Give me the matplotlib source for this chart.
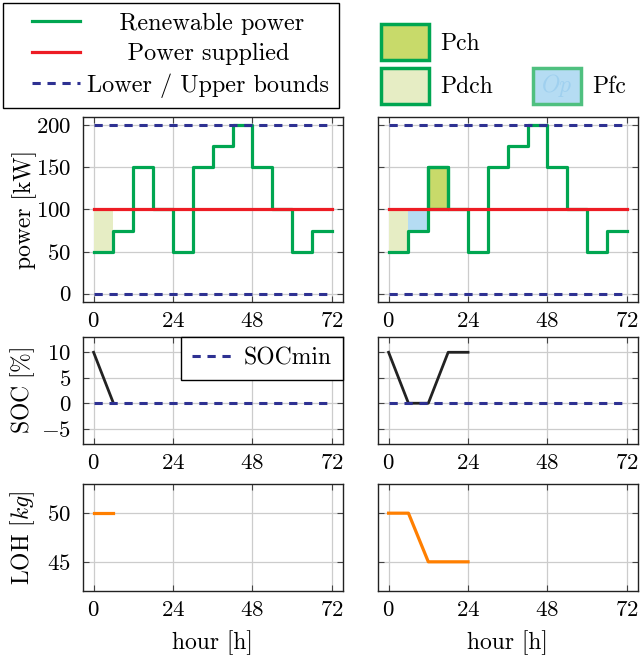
import matplotlib
matplotlib.use('Agg')
import numpy as np
import matplotlib.pyplot as plt
from matplotlib.lines import Line2D
from matplotlib.patches import Patch
from matplotlib.text import Text
from matplotlib.legend_handler import HandlerLine2D, HandlerPatch

plt.rcParams['font.family'] = 'cmr10'
plt.rcParams['mathtext.fontset'] = 'cm'
plt.rcParams['axes.formatter.use_mathtext'] = True
plt.rcParams['axes.unicode_minus'] = True

# ---- data ----
hours = [0, 6, 12, 18, 24, 30, 36, 42, 48, 54, 60, 66, 72]
renewable = [50, 75, 150, 100, 50, 150, 175, 200, 150, 100, 50, 75]
supplied = [100, 100]
supplied_h = [0, 72]
lower_bound = [0, 0]
upper_bound = [200, 200]

pdch_h = [0, 6]
pdch_lo = [50, 50]
pdch_hi = [100, 100]
pfc_h = [6, 12]
pfc_lo = [75, 75]
pfc_hi = [100, 100]
pch_h = [12, 18]
pch_lo = [100, 100]
pch_hi = [150, 150]

soc_left_h = [0, 6]
soc_left = [10, 0]
soc_right_h = [0, 6, 12, 18, 24]
soc_right = [10, 0, 0, 10, 10]
soc_min = [0, 0]

loh_left_h = [0, 6]
loh_left = [50, 50]
loh_right_h = [0, 6, 12, 24]
loh_right = [50, 50, 45, 45]

xticks = [0, 24, 48, 72]

GREEN = '#00a651'
RED = '#ed1c24'
BLUE = '#2e3192'
ORANGE = '#ff7f00'
C_PDCH = '#e6edc4'
C_PCH = '#c8da6a'
C_PFC = '#b5dcf3'
DASH = (0, (2.7, 2.2))
FS = 17
TFS = 16.5

W, H = 641, 659
fig = plt.figure(figsize=(W / 100, H / 100), dpi=100)


def box(x0, y0, x1, y1):
    return [x0 / W, 1 - y1 / H, (x1 - x0) / W, (y1 - y0) / H]


class InsetLine(HandlerLine2D):
    """legend line that leaves some room on its left, like pgfplots"""
    def __init__(self, inset, **kw):
        super().__init__(**kw)
        self.inset = inset

    def get_xdata(self, legend, xdescent, ydescent, width, height, fontsize):
        x = np.array([-xdescent + self.inset * fontsize, -xdescent + width])
        return x, x


class OpPatch(HandlerPatch):
    def create_artists(self, legend, orig_handle, xdescent, ydescent,
                       width, height, fontsize, trans):
        arts = super().create_artists(legend, orig_handle, xdescent, ydescent,
                                      width, height, fontsize, trans)
        t = Text(-xdescent + width / 2, -ydescent + height / 2, '$Op$',
                 color='#9fd0ef', fontsize=fontsize, ha='center', va='center',
                 transform=trans)
        return arts + [t]


cols = [(83, 342.5), (378, 637.5)]
rows = [(117, 302), (337, 444), (484, 591)]
axes = [[fig.add_axes(box(c[0], r[0], c[1], r[1])) for c in cols] for r in rows]

ren_y = renewable + [renewable[-1]]

for j in range(2):
    ax = axes[0][j]
    ax.plot(hours, ren_y, drawstyle='steps-post', color=GREEN, lw=2.3, zorder=3)
    ax.plot(supplied_h, supplied, color=RED, lw=2.3, zorder=4)
    ax.plot(supplied_h, lower_bound, color=BLUE, lw=2.2, ls=DASH, zorder=5)
    ax.plot(supplied_h, upper_bound, color=BLUE, lw=2.2, ls=DASH, zorder=5)
    ax.fill_between(pdch_h, pdch_lo, pdch_hi, color=C_PDCH, lw=0, zorder=2)
    ax.set_ylim(-10, 210)
    ax.set_yticks([0, 50, 100, 150, 200])

ax = axes[0][1]
ax.fill_between(pfc_h, pfc_lo, pfc_hi, color=C_PFC, lw=0, zorder=2)
ax.fill_between(pch_h, pch_lo, pch_hi, facecolor=C_PCH, edgecolor=GREEN, lw=2.3, zorder=2)

axes[1][0].plot(soc_left_h, soc_left, color='#222222', lw=2.0, zorder=3)
axes[1][1].plot(soc_right_h, soc_right, color='#222222', lw=2.0, zorder=3)
for j in range(2):
    ax = axes[1][j]
    ax.plot(supplied_h, soc_min, color=BLUE, lw=2.2, ls=DASH, zorder=4,
            label='SOCmin')
    ax.set_ylim(-8, 13)
    ax.set_yticks([-5, 0, 5, 10])

axes[2][0].plot(loh_left_h, loh_left, color=ORANGE, lw=2.3)
axes[2][1].plot(loh_right_h, loh_right, color=ORANGE, lw=2.3)
for j in range(2):
    axes[2][j].set_ylim(42, 53)
    axes[2][j].set_yticks([45, 50])
    axes[2][j].set_xlabel('hour [h]', fontsize=FS, labelpad=7)

for r in range(3):
    for j in range(2):
        ax = axes[r][j]
        ax.set_xlim(-3.2, 75.2)
        ax.set_xticks(xticks)
        ax.grid(True, color='#cccccc', lw=0.9)
        ax.set_axisbelow(True)
        ax.tick_params(direction='in', top=True, right=True, length=4,
                       width=0.8, color='#444444', labelsize=TFS, pad=7)
        ax.tick_params(axis='y', pad=8.5)
        for s in ax.spines.values():
            s.set_linewidth(1.0)
            s.set_color('#222222')
        if j == 1:
            ax.tick_params(labelleft=False)

axes[0][0].set_ylabel('power [kW]', fontsize=FS)
axes[1][0].set_ylabel(r'$\mathrm{SOC\ [\%]}$', fontsize=FS)
axes[2][0].set_ylabel('LOH [$kg$]', fontsize=FS)
for r in range(3):
    axes[r][0].yaxis.set_label_coords(-0.177, 0.5)

leg = axes[1][0].legend(loc='upper right', fontsize=FS, frameon=True,
                        fancybox=False, edgecolor='black', framealpha=1,
                        handlelength=1.7, handletextpad=0.5, borderaxespad=0.0,
                        borderpad=0.45)
leg.get_frame().set_linewidth(1.0)

# top-left legend
h1 = [Line2D([], [], color=GREEN, lw=2.3),
      Line2D([], [], color=RED, lw=2.3),
      Line2D([], [], color=BLUE, lw=2.2, ls=DASH)]
l1 = ['    Renewable power', '     Power supplied', 'Lower / Upper bounds']
lg1 = fig.legend(h1, l1, loc='upper left', bbox_to_anchor=(3 / W, 1 - 3 / H),
                 fontsize=17.5, fancybox=False, edgecolor='black', framealpha=1,
                 handlelength=2.75, handletextpad=0.3, labelspacing=0.34,
                 borderpad=0.4, borderaxespad=0.0,
                 handler_map={Line2D: InsetLine(0.8)})
lg1.get_frame().set_linewidth(1.0)

# top-right legend
pfc_handle = Patch(facecolor=C_PFC, edgecolor='#4fc07f', lw=2.5)
h2 = [Patch(facecolor=C_PCH, edgecolor=GREEN, lw=2.5),
      Patch(facecolor=C_PDCH, edgecolor=GREEN, lw=2.5),
      Patch(facecolor='none', edgecolor='none'),
      pfc_handle]
l2 = ['Pch', 'Pdch', '', 'Pfc']
lg2 = fig.legend(h2, l2, loc='upper left', bbox_to_anchor=(381 / W, 1 - 24 / H),
                 ncol=2, fontsize=FS, frameon=False, handlelength=2.05,
                 handleheight=2.0, labelspacing=0.3, columnspacing=1.7,
                 handletextpad=0.45, borderpad=0.0, borderaxespad=0.0,
                 handler_map={pfc_handle: OpPatch()})

fig.savefig('out.png', dpi=100)
